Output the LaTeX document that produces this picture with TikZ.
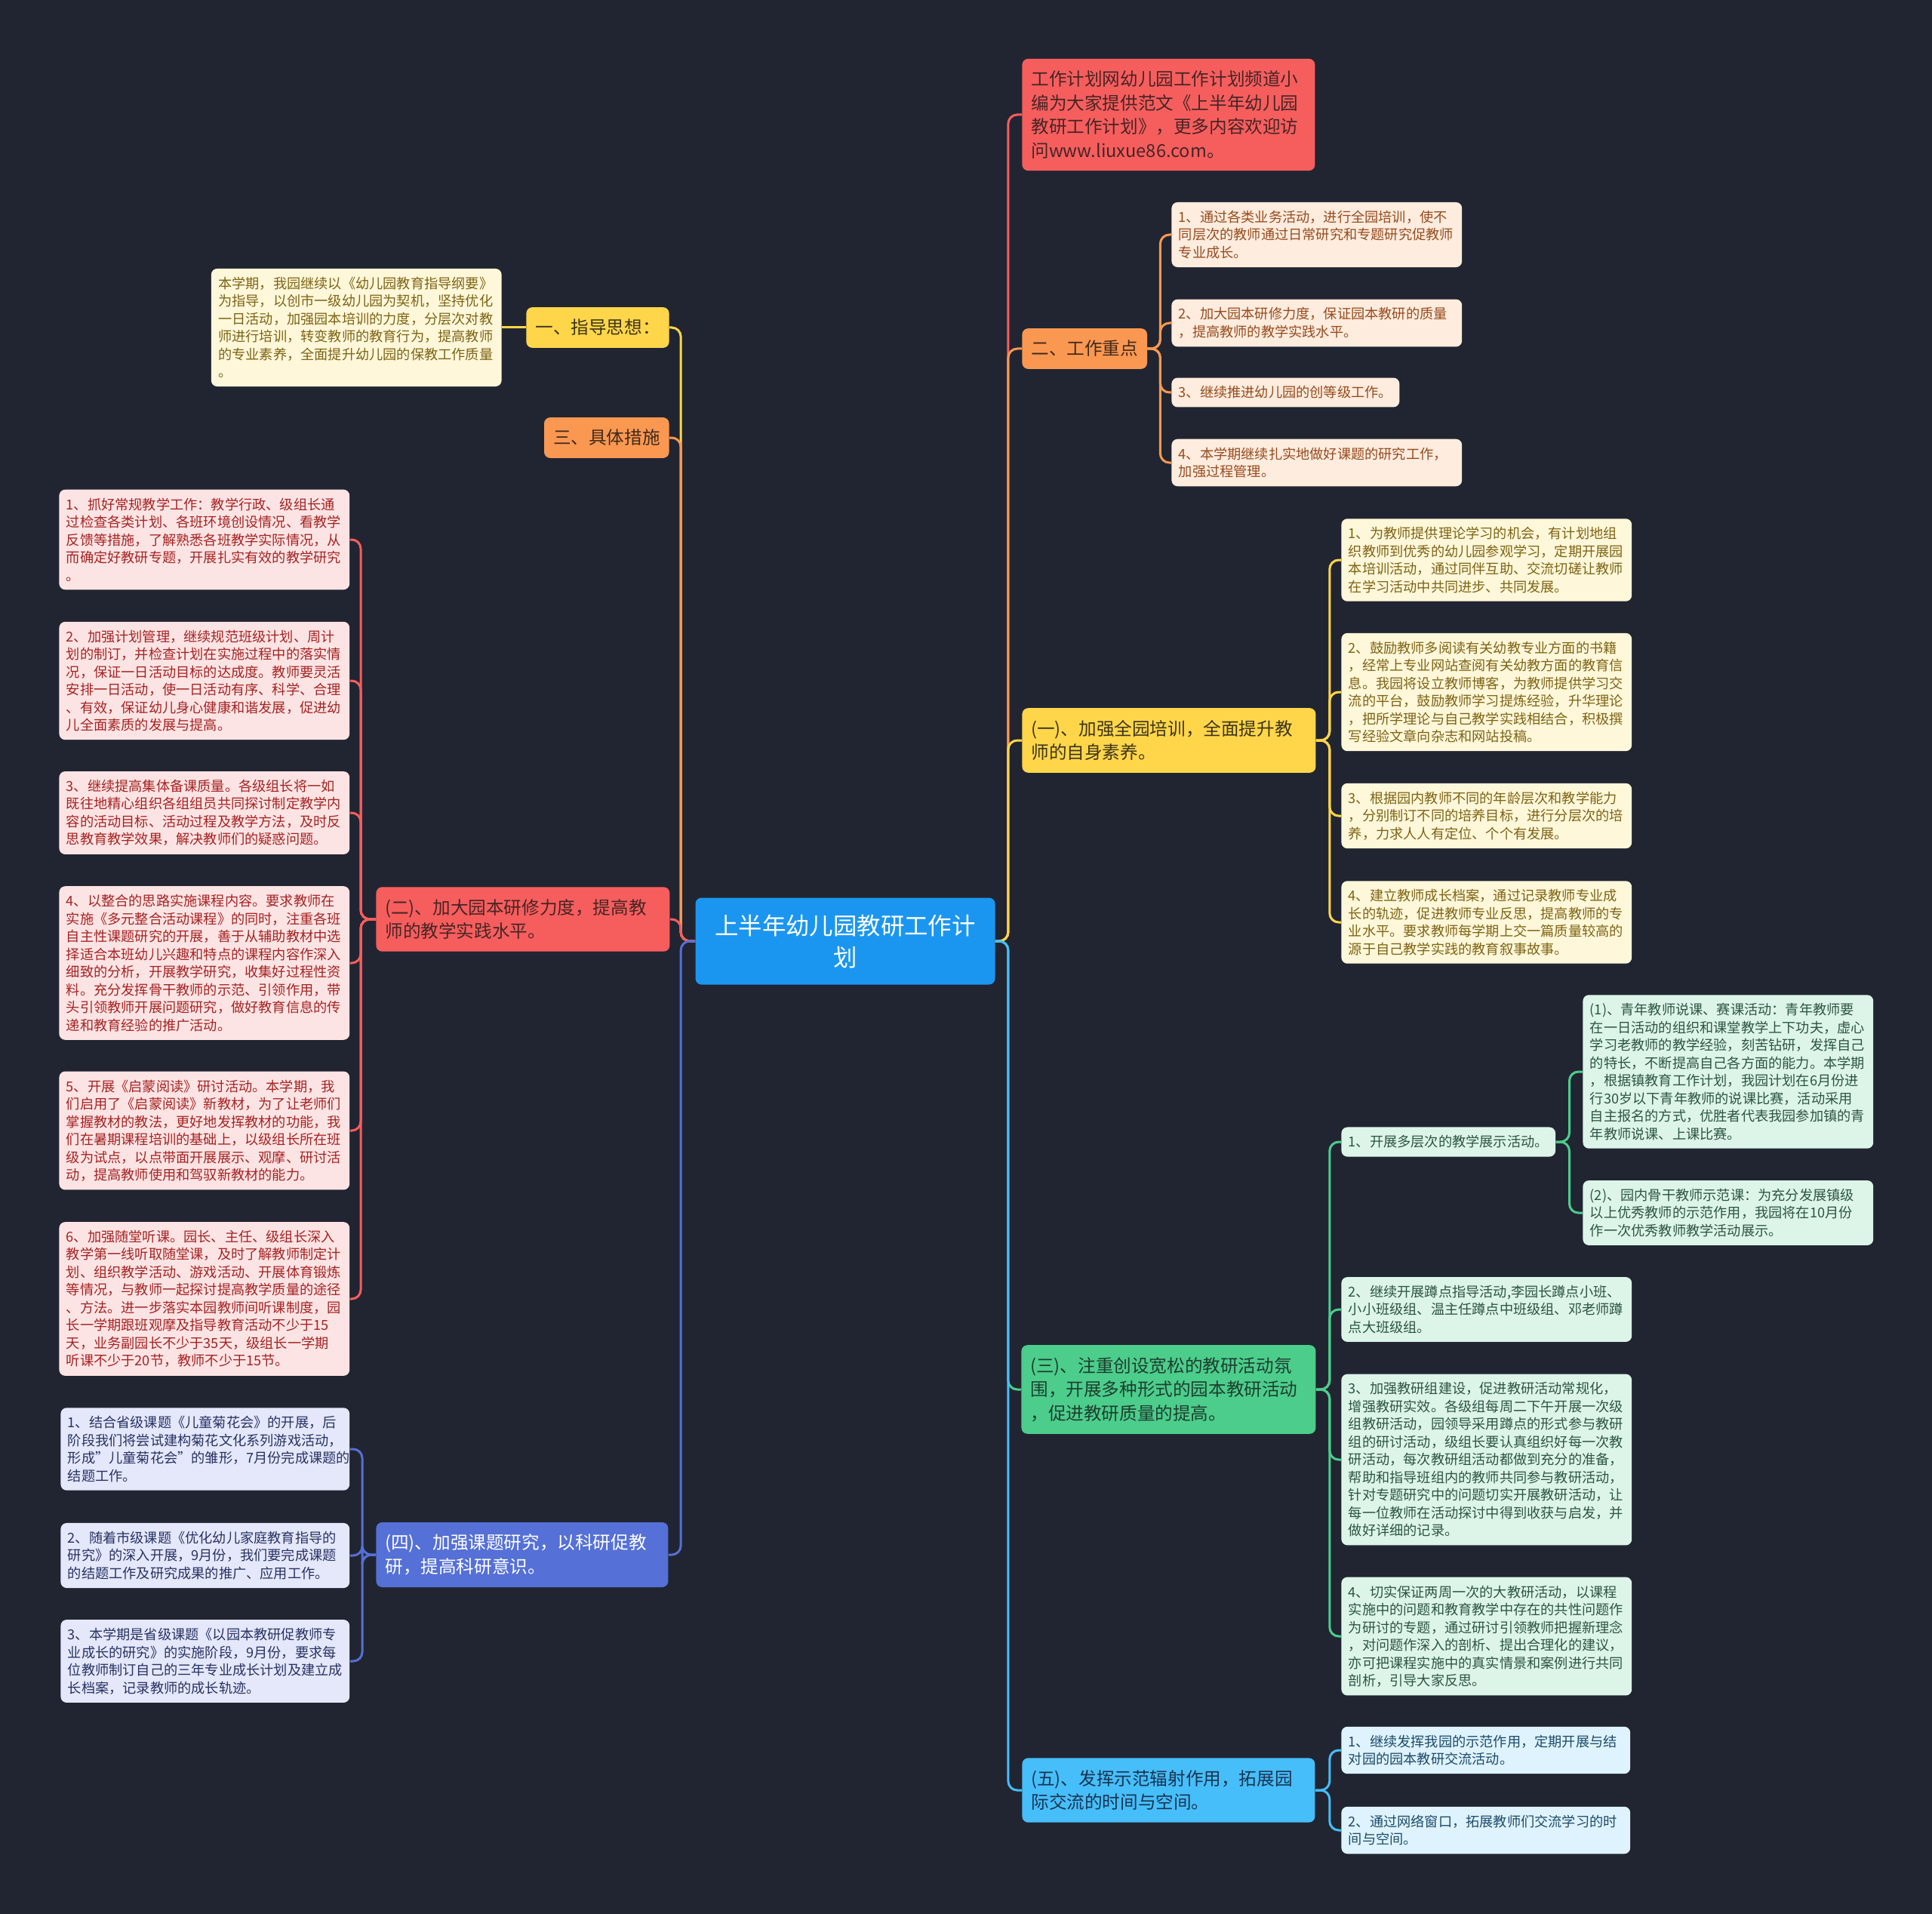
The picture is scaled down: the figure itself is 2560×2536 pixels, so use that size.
\documentclass[tikz,border=0pt]{standalone}
\usepackage{fontspec}
\setmainfont{Noto Sans CJK SC}
\usetikzlibrary{positioning}

\definecolor{bgA}{RGB}{33,37,49}
\definecolor{rootA}{RGB}{27,150,240}
\definecolor{redA}{RGB}{246,94,94}
\definecolor{redT}{RGB}{72,36,36}
\definecolor{orangeA}{RGB}{250,152,82}
\definecolor{orangeT}{RGB}{66,42,26}
\definecolor{yellowA}{RGB}{255,214,74}
\definecolor{yellowT}{RGB}{60,52,28}
\definecolor{greenA}{RGB}{76,205,140}
\definecolor{greenT}{RGB}{30,62,46}
\definecolor{skyA}{RGB}{70,190,250}
\definecolor{skyT}{RGB}{26,52,80}
\definecolor{indigoA}{RGB}{85,112,214}
\definecolor{peachL}{RGB}{254,236,222}
\definecolor{peachT}{RGB}{150,75,30}
\definecolor{creamL}{RGB}{255,247,218}
\definecolor{creamT}{RGB}{125,100,20}
\definecolor{pinkL}{RGB}{253,228,228}
\definecolor{pinkT}{RGB}{165,35,35}
\definecolor{mintL}{RGB}{221,245,233}
\definecolor{mintT}{RGB}{45,85,65}
\definecolor{lilacL}{RGB}{229,232,250}
\definecolor{lilacT}{RGB}{40,50,100}
\definecolor{iceL}{RGB}{222,243,253}
\definecolor{iceT}{RGB}{30,75,105}

\newcommand\leaffont{\fontsize{9.1pt}{11.75pt}\selectfont}
\newcommand\topicfont{\fontsize{11.8pt}{15.75pt}\selectfont}
\newcommand\rootfont{\fontsize{15.7pt}{21pt}\selectfont}

\begin{document}
\begin{tikzpicture}[x=0.5pt, y=-0.5pt,
  rootbox/.style={fill=rootA, text=white, rounded corners=4pt, font=\rootfont,
    align=center, text width=186.5pt, inner xsep=6pt, minimum height=57.5pt},
  topicbox/.style={rounded corners=4pt, inner xsep=6pt, inner ysep=8pt,
    font=\topicfont, align=left, anchor=west},
  leafbox/.style={rounded corners=4pt, inner xsep=4.7pt, inner ysep=5.5pt,
    font=\leaffont, align=left, anchor=west},
  link/.style={line width=1.5pt, rounded corners=6pt}]

  % Background
  \fill[bgA] (0,0) rectangle (2560,2536);
  \useasboundingbox (0,0) rectangle (2560,2536);

  % Root
  \node[rootbox] (root) at (1120,1247) {上半年幼儿园教研工作计\\划};

  % Right: note and work focus
  \node[topicbox, fill=redA, text=redT, text width=182pt] (intro) at (1354,152) {工作计划网幼儿园工作计划频道小\\编为大家提供范文《上半年幼儿园\\教研工作计划》，更多内容欢迎访\\问www.liuxue86.com。};
  \node[topicbox, fill=orangeA, text=orangeT] (focus) at (1354,462) {二、工作重点};
  \node[leafbox, fill=peachL, text=peachT, text width=183pt] (f1) at (1552,311) {1、通过各类业务活动，进行全园培训，使不\\同层次的教师通过日常研究和专题研究促教师\\专业成长。};
  \node[leafbox, fill=peachL, text=peachT, text width=183pt] (f2) at (1552,428) {2、加大园本研修力度，保证园本教研的质量\\，提高教师的教学实践水平。};
  \node[leafbox, fill=peachL, text=peachT] (f3) at (1552,520) {3、继续推进幼儿园的创等级工作。};
  \node[leafbox, fill=peachL, text=peachT, text width=183pt] (f4) at (1552,613) {4、本学期继续扎实地做好课题的研究工作，\\加强过程管理。};

  % Right: (一)
  \node[topicbox, fill=yellowA, text=yellowT, text width=182.5pt] (train) at (1354,981) {(一)、加强全园培训，全面提升教\\师的自身素养。};
  \node[leafbox, fill=creamL, text=creamT, text width=183pt] (t1) at (1777,742) {1、为教师提供理论学习的机会，有计划地组\\织教师到优秀的幼儿园参观学习，定期开展园\\本培训活动，通过同伴互助、交流切磋让教师\\在学习活动中共同进步、共同发展。};
  \node[leafbox, fill=creamL, text=creamT, text width=183pt] (t2) at (1777,917) {2、鼓励教师多阅读有关幼教专业方面的书籍\\，经常上专业网站查阅有关幼教方面的教育信\\息。我园将设立教师博客，为教师提供学习交\\流的平台，鼓励教师学习提炼经验，升华理论\\，把所学理论与自己教学实践相结合，积极撰\\写经验文章向杂志和网站投稿。};
  \node[leafbox, fill=creamL, text=creamT, text width=183pt] (t3) at (1777,1081) {3、根据园内教师不同的年龄层次和教学能力\\，分别制订不同的培养目标，进行分层次的培\\养，力求人人有定位、个个有发展。};
  \node[leafbox, fill=creamL, text=creamT, text width=183pt] (t4) at (1777,1222) {4、建立教师成长档案，通过记录教师专业成\\长的轨迹，促进教师专业反思，提高教师的专\\业水平。要求教师每学期上交一篇质量较高的\\源于自己教学实践的教育叙事故事。};

  % Right: (三)
  \node[topicbox, fill=greenA, text=greenT, text width=183pt] (climate) at (1353,1841) {(三)、注重创设宽松的教研活动氛\\围，开展多种形式的园本教研活动\\，促进教研质量的提高。};
  \node[leafbox, fill=mintL, text=mintT] (c1) at (1777,1513) {1、开展多层次的教学展示活动。};
  \node[leafbox, fill=mintL, text=mintT, text width=183pt] (c1a) at (2097,1420) {(1)、青年教师说课、赛课活动：青年教师要\\在一日活动的组织和课堂教学上下功夫，虚心\\学习老教师的教学经验，刻苦钻研，发挥自己\\的特长，不断提高自己各方面的能力。本学期\\，根据镇教育工作计划，我园计划在6月份进\\行30岁以下青年教师的说课比赛，活动采用\\自主报名的方式，优胜者代表我园参加镇的青\\年教师说课、上课比赛。};
  \node[leafbox, fill=mintL, text=mintT, text width=183pt] (c1b) at (2097,1607) {(2)、园内骨干教师示范课：为充分发展镇级\\以上优秀教师的示范作用，我园将在10月份\\作一次优秀教师教学活动展示。};
  \node[leafbox, fill=mintL, text=mintT, text width=183pt] (c2) at (1777,1735) {2、继续开展蹲点指导活动,李园长蹲点小班、\\小小班级组、温主任蹲点中班级组、邓老师蹲\\点大班级组。};
  \node[leafbox, fill=mintL, text=mintT, text width=183pt] (c3) at (1777,1934) {3、加强教研组建设，促进教研活动常规化，\\增强教研实效。各级组每周二下午开展一次级\\组教研活动，园领导采用蹲点的形式参与教研\\组的研讨活动，级组长要认真组织好每一次教\\研活动，每次教研组活动都做到充分的准备，\\帮助和指导班组内的教师共同参与教研活动，\\针对专题研究中的问题切实开展教研活动，让\\每一位教师在活动探讨中得到收获与启发，并\\做好详细的记录。};
  \node[leafbox, fill=mintL, text=mintT, text width=183pt] (c4) at (1777,2168) {4、切实保证两周一次的大教研活动，以课程\\实施中的问题和教育教学中存在的共性问题作\\为研讨的专题，通过研讨引领教师把握新理念\\，对问题作深入的剖析、提出合理化的建议，\\亦可把课程实施中的真实情景和案例进行共同\\剖析，引导大家反思。};

  % Right: (五)
  \node[topicbox, fill=skyA, text=skyT, text width=182pt] (radiate) at (1354,2372) {(五)、发挥示范辐射作用，拓展园\\际交流的时间与空间。};
  \node[leafbox, fill=iceL, text=iceT, text width=182pt] (e1) at (1777,2319) {1、继续发挥我园的示范作用，定期开展与结\\对园的园本教研交流活动。};
  \node[leafbox, fill=iceL, text=iceT, text width=182pt] (e2) at (1777,2425) {2、通过网络窗口，拓展教师们交流学习的时\\间与空间。};

  % Left: guiding idea and measures
  \node[topicbox, fill=yellowA, text=yellowT, anchor=east] (guide) at (887,434) {一、指导思想：};
  \node[leafbox, fill=creamL, text=creamT, text width=183pt, anchor=east] (guidetext) at (665,434) {本学期，我园继续以《幼儿园教育指导纲要》\\为指导，以创市一级幼儿园为契机，坚持优化\\一日活动，加强园本培训的力度，分层次对教\\师进行培训，转变教师的教育行为，提高教师\\的专业素养，全面提升幼儿园的保教工作质量\\。};
  \node[topicbox, fill=orangeA, text=orangeT, anchor=east] (measures) at (887,580) {三、具体措施};

  % Left: (二)
  \node[topicbox, fill=redA, text=redT, text width=182.5pt] (practice) at (498,1218) {(二)、加大园本研修力度，提高教\\师的教学实践水平。};
  \node[leafbox, fill=pinkL, text=pinkT, text width=183pt] (p1) at (78,715) {1、抓好常规教学工作：教学行政、级组长通\\过检查各类计划、各班环境创设情况、看教学\\反馈等措施，了解熟悉各班教学实际情况，从\\而确定好教研专题，开展扎实有效的教学研究\\。};
  \node[leafbox, fill=pinkL, text=pinkT, text width=183pt] (p2) at (78,902) {2、加强计划管理，继续规范班级计划、周计\\划的制订，并检查计划在实施过程中的落实情\\况，保证一日活动目标的达成度。教师要灵活\\安排一日活动，使一日活动有序、科学、合理\\、有效，保证幼儿身心健康和谐发展，促进幼\\儿全面素质的发展与提高。};
  \node[leafbox, fill=pinkL, text=pinkT, text width=183pt] (p3) at (78,1077) {3、继续提高集体备课质量。各级组长将一如\\既往地精心组织各组组员共同探讨制定教学内\\容的活动目标、活动过程及教学方法，及时反\\思教育教学效果，解决教师们的疑惑问题。};
  \node[leafbox, fill=pinkL, text=pinkT, text width=183pt] (p4) at (78,1276) {4、以整合的思路实施课程内容。要求教师在\\实施《多元整合活动课程》的同时，注重各班\\自主性课题研究的开展，善于从辅助教材中选\\择适合本班幼儿兴趣和特点的课程内容作深入\\细致的分析，开展教学研究，收集好过程性资\\料。充分发挥骨干教师的示范、引领作用，带\\头引领教师开展问题研究，做好教育信息的传\\递和教育经验的推广活动。};
  \node[leafbox, fill=pinkL, text=pinkT, text width=183pt] (p5) at (78,1498) {5、开展《启蒙阅读》研讨活动。本学期，我\\们启用了《启蒙阅读》新教材，为了让老师们\\掌握教材的教法，更好地发挥教材的功能，我\\们在暑期课程培训的基础上，以级组长所在班\\级为试点，以点带面开展展示、观摩、研讨活\\动，提高教师使用和驾驭新教材的能力。};
  \node[leafbox, fill=pinkL, text=pinkT, text width=183pt] (p6) at (78,1721) {6、加强随堂听课。园长、主任、级组长深入\\教学第一线听取随堂课，及时了解教师制定计\\划、组织教学活动、游戏活动、开展体育锻炼\\等情况，与教师一起探讨提高教学质量的途径\\、方法。进一步落实本园教师间听课制度，园\\长一学期跟班观摩及指导教育活动不少于15\\天，业务副园长不少于35天，级组长一学期\\听课不少于20节，教师不少于15节。};

  % Left: (四)
  \node[topicbox, fill=indigoA, text=white, text width=181.5pt] (research) at (498,2060) {(四)、加强课题研究，以科研促教\\研，提高科研意识。};
  \node[leafbox, fill=lilacL, text=lilacT, text width=182pt] (s1) at (80,1920) {1、结合省级课题《儿童菊花会》的开展，后\\阶段我们将尝试建构菊花文化系列游戏活动，\\形成"儿童菊花会"的雏形，7月份完成课题的\\结题工作。};
  \node[leafbox, fill=lilacL, text=lilacT, text width=182pt] (s2) at (80,2061) {2、随着市级课题《优化幼儿家庭教育指导的\\研究》的深入开展，9月份，我们要完成课题\\的结题工作及研究成果的推广、应用工作。};
  \node[leafbox, fill=lilacL, text=lilacT, text width=182pt] (s3) at (80,2201) {3、本学期是省级课题《以园本教研促教师专\\业成长的研究》的实施阶段，9月份，要求每\\位教师制订自己的三年专业成长计划及建立成\\长档案，记录教师的成长轨迹。};

  % Root links
  \draw[link, redA] (root.east) -- ++(17,0) |- (intro.west);
  \draw[link, orangeA] (root.east) -- ++(17,0) |- (focus.west);
  \draw[link, yellowA] (root.east) -- ++(17,0) |- (train.west);
  \draw[link, greenA] (root.east) -- ++(17,0) |- (climate.west);
  \draw[link, skyA] (root.east) -- ++(17,0) |- (radiate.west);
  \draw[link, yellowA] (root.west) -- ++(-19,0) |- (guide.east);
  \draw[link, orangeA] (root.west) -- ++(-19,0) |- (measures.east);
  \draw[link, redA] (root.west) -- ++(-19,0) |- (practice.east);
  \draw[link, indigoA] (root.west) -- ++(-19,0) |- (research.east);

  % Branch links
  \draw[link, orangeA] (focus.east) -- ++(17,0) |- (f1.west);
  \draw[link, orangeA] (focus.east) -- ++(17,0) |- (f2.west);
  \draw[link, orangeA] (focus.east) -- ++(17,0) |- (f3.west);
  \draw[link, orangeA] (focus.east) -- ++(17,0) |- (f4.west);
  \draw[link, yellowA] (train.east) -- ++(18,0) |- (t1.west);
  \draw[link, yellowA] (train.east) -- ++(18,0) |- (t2.west);
  \draw[link, yellowA] (train.east) -- ++(18,0) |- (t3.west);
  \draw[link, yellowA] (train.east) -- ++(18,0) |- (t4.west);
  \draw[link, greenA] (climate.east) -- ++(18,0) |- (c1.west);
  \draw[link, greenA] (climate.east) -- ++(18,0) |- (c2.west);
  \draw[link, greenA] (climate.east) -- ++(18,0) |- (c3.west);
  \draw[link, greenA] (climate.east) -- ++(18,0) |- (c4.west);
  \draw[link, greenA] (c1.east) -- ++(18,0) |- (c1a.west);
  \draw[link, greenA] (c1.east) -- ++(18,0) |- (c1b.west);
  \draw[link, skyA] (radiate.east) -- ++(19,0) |- (e1.west);
  \draw[link, skyA] (radiate.east) -- ++(19,0) |- (e2.west);
  \draw[link, yellowA] (guide.west) -- (guidetext.east);
  \draw[link, redA] (practice.west) -- ++(-20,0) |- (p1.east);
  \draw[link, redA] (practice.west) -- ++(-20,0) |- (p2.east);
  \draw[link, redA] (practice.west) -- ++(-20,0) |- (p3.east);
  \draw[link, redA] (practice.west) -- ++(-20,0) |- (p4.east);
  \draw[link, redA] (practice.west) -- ++(-20,0) |- (p5.east);
  \draw[link, redA] (practice.west) -- ++(-20,0) |- (p6.east);
  \draw[link, indigoA] (research.west) -- ++(-18,0) |- (s1.east);
  \draw[link, indigoA] (research.west) -- ++(-18,0) |- (s2.east);
  \draw[link, indigoA] (research.west) -- ++(-18,0) |- (s3.east);
\end{tikzpicture}
\end{document}
